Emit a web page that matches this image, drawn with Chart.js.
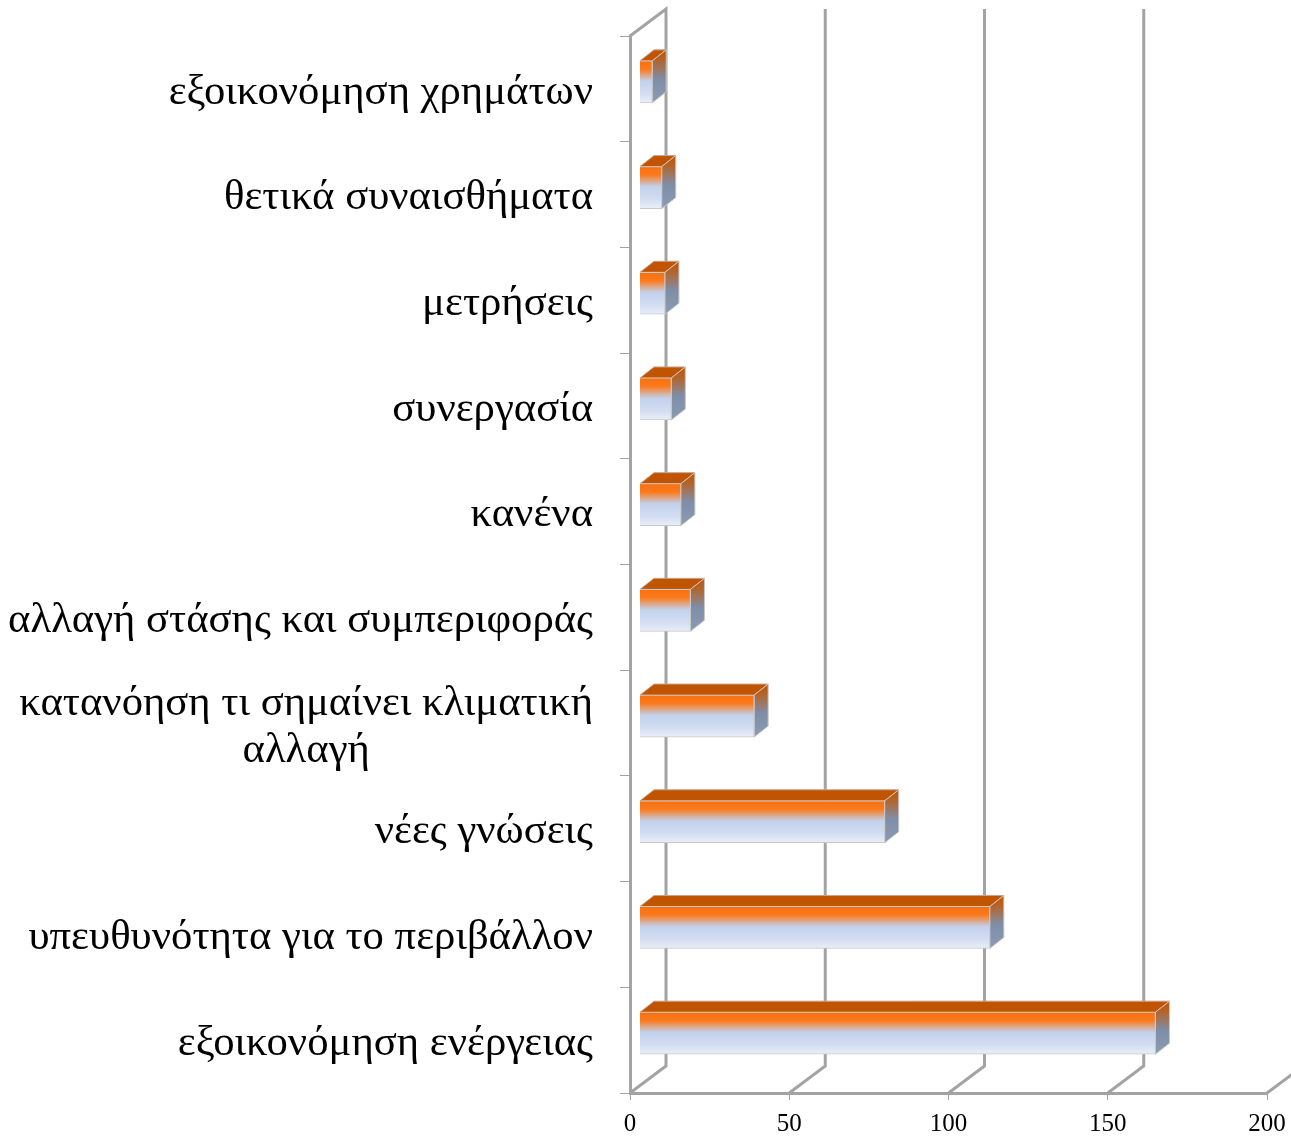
<!DOCTYPE html>
<html lang="el">
<head>
    <meta charset="UTF-8">
    <title>Chart</title>
    <script src="https://cdn.jsdelivr.net/npm/chart.js"></script>
    <style>
        html, body { margin: 0; padding: 0; background: #fff; }
        canvas { display: block; }
    </style>
</head>
<body>
<canvas id="barChart" width="1291" height="1137"></canvas>

<script>
    const categories = [
        'εξοικονόμηση χρημάτων',
        'θετικά συναισθήματα',
        'μετρήσεις',
        'συνεργασία',
        'κανένα',
        'αλλαγή στάσης και συμπεριφοράς',
        ['κατανόηση τι σημαίνει κλιματική', 'αλλαγή'],
        'νέες γνώσεις',
        'υπευθυνότητα για το περιβάλλον',
        'εξοικονόμηση ενέργειας'
    ];
    const values = [4, 7, 8, 10, 13, 16, 36, 77, 110, 162];
    const xTicks = [0, 50, 100, 150, 200];

    const GRID = '#a3a3a3';
    const WALL_DX = 36, WALL_DY = -27;   // floor/back wall depth
    const BAR_DX = 9.5, BAR_DY = -7;     // bars sit part way into the depth
    const SIDE_DX = 14, SIDE_DY = -11;   // bar's own depth

    function frontGradient(ctx, top, bottom) {
        const g = ctx.createLinearGradient(0, top, 0, bottom);
        g.addColorStop(0, '#f9700f');
        g.addColorStop(0.2, '#fb7a1c');
        g.addColorStop(0.48, '#c2d1ec');
        g.addColorStop(0.78, '#d3ddf2');
        g.addColorStop(1, '#e9eef8');
        return g;
    }

    // back wall and floor, drawn from the value scale
    const wallPlugin = {
        id: 'wall',
        beforeDatasetsDraw(chart) {
            const { ctx, chartArea, scales } = chart;
            ctx.save();
            ctx.strokeStyle = GRID;
            ctx.lineWidth = 3;
            xTicks.forEach(v => {
                const x = scales.x.getPixelForValue(v);
                ctx.beginPath();
                ctx.moveTo(x, chartArea.bottom);
                ctx.lineTo(x + WALL_DX, chartArea.bottom + WALL_DY);
                ctx.lineTo(x + WALL_DX, chartArea.top + WALL_DY);
                if (v === 0) ctx.lineTo(x, chartArea.top);
                ctx.stroke();
            });
            ctx.restore();
        }
    };

    // top and side faces, and the shift of the whole bar into the depth
    const bar3dPlugin = {
        id: 'bar3d',
        beforeDatasetDraw(chart, args) {
            const ctx = chart.ctx;
            ctx.save();
            ctx.translate(BAR_DX, BAR_DY);
            args.meta.data.forEach(bar => {
                const y0 = bar.y - bar.height / 2;
                const y1 = bar.y + bar.height / 2;
                const x0 = bar.base, x1 = bar.x;

                ctx.fillStyle = '#c05400';
                ctx.strokeStyle = '#c9a48c';
                ctx.lineWidth = 1;
                ctx.beginPath();
                ctx.moveTo(x0, y0);
                ctx.lineTo(x0 + SIDE_DX, y0 + SIDE_DY);
                ctx.lineTo(x1 + SIDE_DX, y0 + SIDE_DY);
                ctx.lineTo(x1, y0);
                ctx.closePath();
                ctx.fill();
                ctx.stroke();

                const side = ctx.createLinearGradient(0, y0 + SIDE_DY, 0, y1);
                side.addColorStop(0, '#c05400');
                side.addColorStop(0.2, '#b4642a');
                side.addColorStop(0.55, '#7f8ea8');
                side.addColorStop(1, '#8b9bb3');
                ctx.fillStyle = side;
                ctx.strokeStyle = '#c8c8c8';
                ctx.beginPath();
                ctx.moveTo(x1, y0);
                ctx.lineTo(x1 + SIDE_DX, y0 + SIDE_DY);
                ctx.lineTo(x1 + SIDE_DX, y1 + SIDE_DY);
                ctx.lineTo(x1, y1);
                ctx.closePath();
                ctx.fill();
                ctx.stroke();
            });
        },
        afterDatasetDraw(chart) {
            chart.ctx.restore();
        }
    };

    // the one wrapped label is centred on its own block, as in the original
    const wrappedLabelPlugin = {
        id: 'wrappedLabel',
        beforeDraw(chart) {
            const scale = chart.scales.y;
            const ctx = chart.ctx;
            scale.getLabelItems(chart.chartArea).forEach(item => {
                if (!Array.isArray(item.label)) return;
                ctx.save();
                ctx.font = item.font.string;
                const w = Math.max(...item.label.map(s => ctx.measureText(s).width));
                ctx.restore();
                item.options.textAlign = 'center';
                item.options.translation = [item.options.translation[0] - w / 2, item.options.translation[1] + 1];
            });
        }
    };

    new Chart(document.getElementById('barChart').getContext('2d'), {
        type: 'bar',
        data: {
            labels: categories,
            datasets: [{
                data: values,
                barThickness: 42,
                borderWidth: 1,
                borderColor: '#c9c9c9',
                backgroundColor(context) {
                    const { chart, dataIndex } = context;
                    if (!chart.chartArea || dataIndex === undefined) return '#f9700f';
                    const y = chart.scales.y.getPixelForValue(dataIndex);
                    return frontGradient(chart.ctx, y - 21, y + 21);
                }
            }]
        },
        options: {
            indexAxis: 'y',
            responsive: false,
            animation: false,
            layout: { padding: { top: 36, right: 24, left: 0, bottom: 0 } },
            plugins: { legend: { display: false }, tooltip: { enabled: false } },
            scales: {
                x: {
                    min: 0,
                    max: 200,
                    afterFit(scale) {
                        scale.height = 44;
                        scale.paddingLeft = 0;
                        scale.paddingRight = 0;
                    },
                    afterBuildTicks(scale) { scale.ticks = xTicks.map(value => ({ value })); },
                    border: { color: GRID, width: 3 },
                    grid: { drawOnChartArea: false, color: GRID, lineWidth: 1, tickLength: 7 },
                    ticks: {
                        color: '#000',
                        maxRotation: 0,
                        padding: 9,
                        font: { family: '"Liberation Serif"', size: 25 }
                    }
                },
                y: {
                    afterFit(scale) {
                        scale.width = 630;
                        scale.paddingTop = 0;
                        scale.paddingBottom = 0;
                    },
                    border: { color: GRID, width: 3 },
                    grid: { drawOnChartArea: false, color: GRID, lineWidth: 1, tickLength: 10 },
                    ticks: {
                        color: '#000',
                        autoSkip: false,
                        padding: 27,
                        labelOffset: 3.5,
                        font: { family: '"Liberation Serif"', size: 42.7, lineHeight: 1.09 }
                    }
                }
            }
        },
        plugins: [wallPlugin, bar3dPlugin, wrappedLabelPlugin]
    });
</script>
</body>
</html>
